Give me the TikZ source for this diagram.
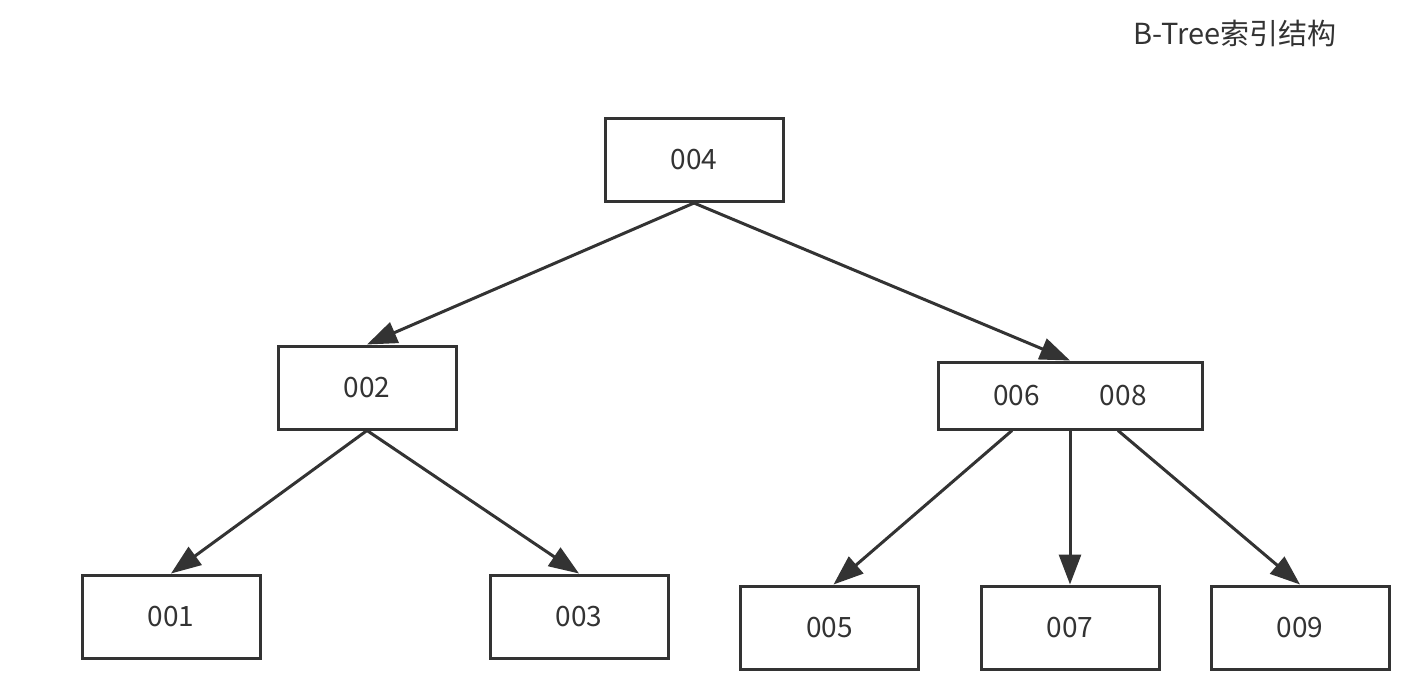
\documentclass[tikz,border=0pt]{standalone}
\usepackage{fontspec}
\setmainfont{Noto Sans CJK SC}
\usetikzlibrary{arrows.meta,positioning}
\definecolor{inkgray}{HTML}{333333}

\begin{document}
\begin{tikzpicture}[-{Triangle[length=15pt,width=11pt]},
                    line width=1.5pt,draw=inkgray,on grid,
                    key/.style={-,rectangle,draw=inkgray,line width=1.5pt,
                                minimum width=89pt,minimum height=41.5pt,
                                inner sep=0pt,text=inkgray,
                                font=\fontsize{14}{16}\selectfont}]

  \useasboundingbox (0,0) rectangle (709.5pt,-343.5pt);

  \node[key]                 (R) at (347pt,-80pt)                   {004};
  \node[key]                 (L) [below left=113.75pt and 163.5pt of R]  {002};
  \node[key,minimum width=132pt,minimum height=33.5pt]
                             (M) [below right=117.75pt and 188pt of R] {006\hspace{30pt}008};
  \node[key]                 (A) [below left=114.5pt and 98pt of L]   {001};
  \node[key]                 (C) [below right=114.5pt and 106pt of L] {003};
  \node[key]                 (G) [below=116pt of M]                   {007};
  \node[key]                 (E) [left=120.25pt of G]                 {005};
  \node[key]                 (I) [right=115pt of G]                   {009};

  \node[text=inkgray,font=\fontsize{14.5}{16}\selectfont]
                             (T) at (617.5pt,-16.5pt)               {B-Tree索引结构};

  \draw (R.south) -- (L.north);
  \draw (R.south) -- (M.north);
  \draw (L.south) -- (A.north);
  \draw (L.south) -- (C.north);
  \draw ([xshift=-29pt]M.south) -- ([xshift=2pt]E.north);
  \draw (M.south) -- (G.north);
  \draw ([xshift=24pt]M.south) -- (I.north);
\end{tikzpicture}
\end{document}
